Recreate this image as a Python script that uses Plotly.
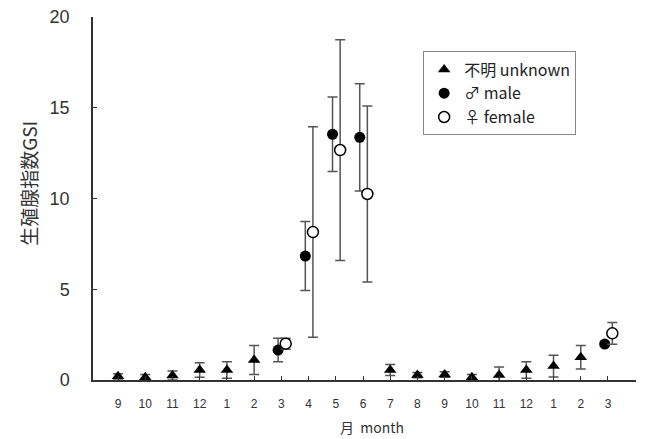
import plotly.graph_objects as go

months = ["9", "10", "11", "12", "1", "2", "3", "4", "5", "6",
          "7", "8", "9", "10", "11", "12", "1", "2", "3"]

# unknown (triangle): index -> value, sd
unk_idx = [0, 1, 2, 3, 4, 5, 10, 11, 12, 13, 14, 15, 16, 17]
unk_val = [0.2, 0.15, 0.25, 0.55, 0.55, 1.1, 0.55, 0.27, 0.3, 0.15, 0.27, 0.55, 0.77, 1.25]
unk_sd = [0.15, 0.15, 0.25, 0.4, 0.45, 0.8, 0.3, 0.15, 0.15, 0.15, 0.45, 0.45, 0.6, 0.65]

male_idx = [6, 7, 8, 9, 18]
male_val = [1.65, 6.83, 13.54, 13.37, 1.98]
male_sd = [0.65, 1.9, 2.05, 2.95, 0.1]

female_idx = [6, 7, 8, 9, 18]
female_val = [2.0, 8.15, 12.67, 10.25, 2.57]
female_sd = [0.3, 5.8, 6.08, 4.85, 0.6]

MALE_OFF = -0.12
FEMALE_OFF = 0.16

err_style = dict(type="data", visible=True, color="#555555", thickness=1.5, width=5)

fig = go.Figure()
fig.add_trace(go.Scatter(
    x=unk_idx, y=unk_val, mode="markers", name="不明 unknown",
    marker=dict(symbol="triangle-up", size=11, color="black"),
    error_y=dict(array=unk_sd, **err_style)))
fig.add_trace(go.Scatter(
    x=[i + MALE_OFF for i in male_idx], y=male_val, mode="markers", name="♂ male",
    marker=dict(symbol="circle", size=11, color="black"),
    error_y=dict(array=male_sd, **err_style)))
fig.add_trace(go.Scatter(
    x=[i + FEMALE_OFF for i in female_idx], y=female_val, mode="markers", name="♀ female",
    marker=dict(symbol="circle", size=11, color="white", line=dict(color="black", width=1.5)),
    error_y=dict(array=female_sd, **err_style)))

fig.update_layout(
    width=650, height=439, autosize=False,
    margin=dict(l=93, r=14, t=17, b=59),
    paper_bgcolor="white", plot_bgcolor="white",
    font=dict(family="Liberation Sans, Arial, sans-serif", color="#222222"),
    showlegend=True,
    legend=dict(
        x=0.608, y=0.905, xanchor="left", yanchor="top",
        bordercolor="#888888", borderwidth=1, bgcolor="white",
        font=dict(family="Noto Sans CJK JP, sans-serif", size=16, color="#222222"),
        tracegroupgap=0, itemwidth=30,
    ),
    xaxis=dict(
        range=[-0.92, 19.03], tickmode="array",
        tickvals=list(range(len(months))), ticktext=months,
        showline=True, linecolor="#333333", linewidth=1.5,
        ticks="inside", ticklen=4, tickcolor="#333333",
        tickfont=dict(size=12, family="Liberation Sans, Arial, sans-serif", color="#333333"),
        ticklabelstandoff=12, automargin=False,
        showgrid=False, zeroline=False,
    ),
    yaxis=dict(
        range=[0, 20], tickvals=[0, 5, 10, 15, 20],
        showline=True, linecolor="#333333", linewidth=1.5,
        ticks="inside", ticklen=4, tickcolor="#333333",
        tickfont=dict(size=18, family="Liberation Sans, Arial, sans-serif", color="#333333"),
        ticklabelstandoff=18, automargin=False,
        showgrid=False, zeroline=False,
    ),
    annotations=[
        dict(
            text="生殖腺指数GSI", textangle=-90, xref="paper", yref="paper",
            x=-0.118, y=0.543, xanchor="center", yanchor="middle", showarrow=False,
            font=dict(size=19, family="Noto Sans CJK JP, sans-serif", color="#333333"),
        ),
        dict(
            text="月  month", xref="paper", yref="paper",
            x=0.514, y=-0.13, xanchor="center", yanchor="middle", showarrow=False,
            font=dict(size=14, family="Noto Sans CJK JP, sans-serif", color="#333333"),
        ),
    ],
)

fig.write_html("out.html", config={"displayModeBar": False},
               post_script="document.body.style.margin='0';")
